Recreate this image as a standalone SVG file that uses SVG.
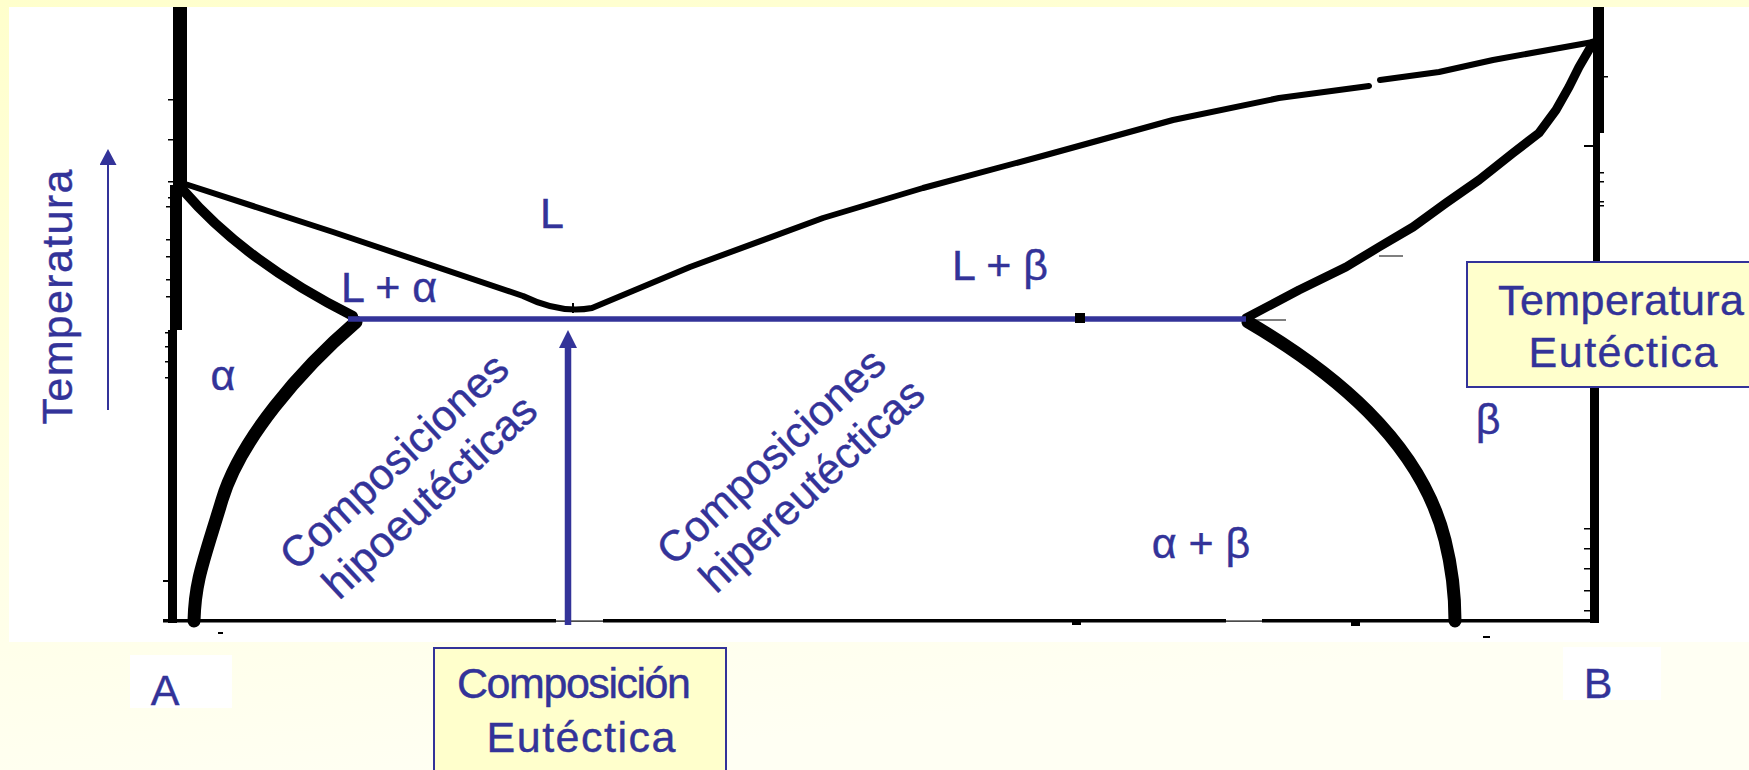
<svg xmlns="http://www.w3.org/2000/svg" width="1749" height="770" viewBox="0 0 1749 770">
<defs>
<linearGradient id="bg" x1="0" y1="0" x2="0.3" y2="1">
<stop offset="0" stop-color="#FFFFCC"/>
<stop offset="1" stop-color="#FFFFF3"/>
</linearGradient>
<marker id="headBig" viewBox="0 0 18 18" refX="0" refY="9" markerWidth="18" markerHeight="18" markerUnits="userSpaceOnUse" orient="auto">
<path d="M0,0 L18,9 L0,18 z" fill="#333399"/>
</marker>
<marker id="headSmall" viewBox="0 0 16 17" refX="0" refY="8.5" markerWidth="16" markerHeight="17" markerUnits="userSpaceOnUse" orient="auto">
<path d="M0,0 L16,8.5 L0,17 z" fill="#333399"/>
</marker>
</defs>
<style>
.t{font-family:"Liberation Sans",Arial,sans-serif;font-size:43px;fill:#333399;stroke:#333399;stroke-width:0.4}
.m{text-anchor:middle}
.cv{fill:none;stroke:#000;stroke-linejoin:round;stroke-linecap:round}
.box{fill:#FFFFCC;stroke:#333399;stroke-width:2}
.blue{stroke:#333399;fill:none}
.ax{fill:#000}
</style>

<rect x="0" y="0" width="1749" height="770" fill="url(#bg)"/>
<rect x="9" y="7" width="1740" height="635" fill="#FFFFFF"/>

<g id="axes">
<rect class="ax" x="173" y="7" width="14" height="178"/>
<rect class="ax" x="170" y="185" width="12" height="145"/>
<rect class="ax" x="168" y="330" width="9" height="293"/>
<rect class="ax" x="1593" y="7" width="11" height="126"/>
<rect class="ax" x="1593" y="133" width="7" height="135"/>
<rect class="ax" x="1590" y="380" width="9" height="243"/>
<rect class="ax" x="163" y="619" width="393" height="3.5"/>
<rect class="ax" x="556" y="620.5" width="47" height="1.2"/>
<rect class="ax" x="603" y="619" width="623" height="3.5"/>
<rect class="ax" x="1226" y="620.5" width="36" height="1.2"/>
<rect class="ax" x="1262" y="619" width="337" height="3.5"/>
<g id="ticks" fill="#000">
<rect x="168" y="99" width="6" height="1.5"/><rect x="168" y="139" width="6" height="1.5"/>
<rect x="168" y="181" width="6" height="1.5"/><rect x="168" y="197" width="6" height="1.5"/>
<rect x="166" y="206" width="6" height="1.5"/><rect x="166" y="239" width="6" height="1.5"/>
<rect x="166" y="256" width="6" height="1.5"/><rect x="166" y="279" width="6" height="1.5"/>
<rect x="166" y="296" width="6" height="1.5"/><rect x="165" y="332" width="6" height="1.5"/>
<rect x="165" y="346" width="6" height="1.5"/><rect x="165" y="361" width="6" height="1.5"/>
<rect x="165" y="377" width="6" height="1.5"/><rect x="163" y="580" width="6" height="2"/>
<rect x="1584" y="145" width="10" height="2"/><rect x="1603" y="76" width="5" height="1.5"/>
<rect x="1599" y="172" width="5" height="1.5"/><rect x="1599" y="181" width="5" height="1.5"/>
<rect x="1599" y="201" width="5" height="1.5"/><rect x="1599" y="205" width="5" height="1.5"/>
<rect x="1584" y="528" width="6" height="1.5"/><rect x="1584" y="548" width="6" height="1.5"/>
<rect x="1584" y="568" width="6" height="1.5"/><rect x="1584" y="590" width="6" height="1.5"/>
<rect x="1584" y="610" width="6" height="1.5"/>
<rect x="218" y="632" width="5" height="2"/>
<rect x="1072" y="622" width="9" height="3"/>
<rect x="1351" y="622" width="9" height="4"/>
<rect x="1483" y="636" width="7" height="2"/>
</g>
</g>

<g id="curves">
<path id="liquidus" class="cv" stroke-width="6" d="M182,183 L333,232 L523,296 Q560,314 592,308 L690,267 L823,218 L923,188 L1046,155 L1173,120 L1279,98 L1369,86"/>
<path class="cv" stroke-width="6" d="M1380,80 L1439,72 L1493,60 L1593,42"/>
<path id="solidus-a" class="cv" stroke-width="10" d="M183,190 Q245,262 353,316"/>
<path id="solvus-a" class="cv" stroke-width="13" stroke-linecap="butt" d="M356,322 C300,370 240,440 222,500 S195,580 194,621"/>
<path id="solidus-b" class="cv" stroke-width="9" d="M1246,318 L1299,290 L1346,267 L1379,247 L1413,227 L1446,203 L1479,180 L1513,153 L1539,133 L1556,110 L1569,87 L1579,67 L1593,43"/>
<path id="solvus-b" class="cv" stroke-width="13" stroke-linecap="butt" d="M1248,322 C1330,370 1420,440 1445,540 C1452,568 1455,595 1455,621"/>
<rect x="572" y="303" width="2" height="10" fill="#000"/>
<rect x="1253" y="319.5" width="33" height="1" fill="#000"/>
<rect x="1379" y="255.5" width="24" height="1" fill="#000"/>
</g>

<g id="connectors">
<line id="eutectic-line" class="blue" x1="348" y1="319" x2="1246" y2="319" stroke-width="5.5"/>
<rect x="1075" y="313" width="10" height="10" fill="#000"/>
<line id="arrow-eutectic" class="blue" x1="568" y1="625" x2="568" y2="348" stroke-width="6.5" marker-end="url(#headBig)"/>
<line id="arrow-temp" class="blue" x1="108" y1="410" x2="108" y2="165" stroke-width="2" marker-end="url(#headSmall)"/>
</g>

<g id="label-temperatura">
<text class="t m" transform="translate(72,297) rotate(-90)" textLength="255">Temperatura</text>
</g>
<g id="label-L"><text class="t m" x="552" y="228">L</text></g>
<g id="label-L-alpha"><text class="t m" x="389" y="302">L + α</text></g>
<g id="label-L-beta"><text class="t m" x="1000" y="280">L + β</text></g>
<g id="label-alpha"><text class="t m" x="223" y="390">α</text></g>
<g id="label-beta"><text class="t m" x="1488" y="434">β</text></g>
<g id="label-alpha-beta"><text class="t m" x="1201" y="558">α + β</text></g>

<g id="label-hipo" transform="translate(404,472) rotate(-43)">
<text class="t m" x="0" y="0">Composiciones</text>
<text class="t m" x="2" y="50">hipoeutécticas</text>
</g>
<g id="label-hiper" transform="translate(781,467) rotate(-43)">
<text class="t m" x="0" y="0">Composiciones</text>
<text class="t m" x="10" y="49">hipereutécticas</text>
</g>

<g id="node-A">
<rect x="130" y="655" width="102" height="53" fill="#FFFFFF"/>
<text class="t m" x="165" y="705">A</text>
</g>
<g id="node-B">
<rect x="1563" y="647" width="98" height="53" fill="#FFFFFF"/>
<text class="t m" x="1598" y="698">B</text>
</g>

<g id="node-temp-eutectica">
<rect class="box" x="1467" y="262" width="290" height="125"/>
<text class="t m" x="1621" y="315" textLength="246">Temperatura</text>
<text class="t m" x="1623" y="367" textLength="189">Eutéctica</text>
</g>
<g id="node-comp-eutectica">
<rect class="box" x="434" y="648" width="292" height="130"/>
<text class="t m" x="574" y="698" textLength="234">Composición</text>
<text class="t m" x="581" y="752" textLength="189">Eutéctica</text>
</g>
</svg>
